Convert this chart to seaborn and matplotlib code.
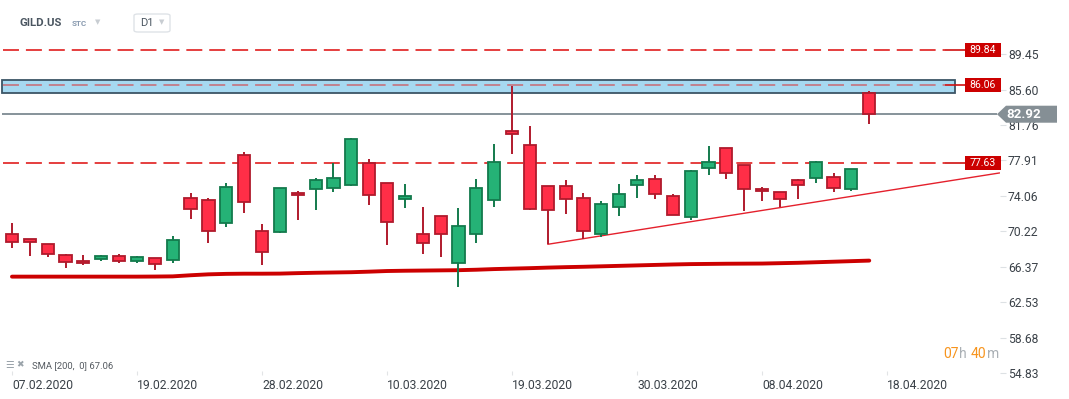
import matplotlib
matplotlib.use("Agg")
import matplotlib.pyplot as plt
import matplotlib.patches as mpatches
from matplotlib.transforms import IdentityTransform
import numpy as np
import pandas as pd
import seaborn as sns

# daily candles GILD.US
opens = [69.89, 69.35, 68.81, 67.62, 66.97, 67.25, 67.51, 67.03, 67.29, 67.07,
         73.80, 73.58, 71.09, 78.50, 70.22, 70.18, 74.34, 74.78, 74.88, 75.21,
         77.60, 75.43, 73.69, 69.89, 71.85, 66.75, 69.89, 73.58, 81.07, 79.55,
         75.10, 75.10, 73.80, 69.89, 72.82, 75.21, 75.86, 74.02, 71.74, 77.05,
         79.22, 77.38, 74.78, 74.45, 75.75, 75.97, 76.08, 74.78, 85.19]
highs = [71.15, 69.40, 68.85, 67.76, 67.65, 67.65, 67.76, 67.54, 67.32, 69.71,
         74.37, 73.83, 75.46, 78.82, 71.01, 74.90, 74.59, 76.00, 77.60, 80.34,
         78.06, 75.45, 75.35, 72.86, 71.88, 72.75, 75.86, 79.69, 85.98, 81.64,
         75.12, 75.78, 74.37, 73.47, 75.35, 76.33, 76.33, 74.23, 76.87, 79.47,
         79.25, 77.40, 74.99, 74.47, 75.89, 77.80, 76.51, 76.97, 85.44]
lows = [68.44, 67.57, 67.47, 66.27, 66.53, 67.03, 66.75, 66.82, 66.05, 66.82,
        71.59, 68.98, 70.72, 72.24, 66.60, 70.07, 71.48, 72.56, 74.52, 75.15,
        73.11, 68.77, 72.78, 67.79, 67.47, 64.15, 68.98, 72.89, 78.64, 72.58,
        68.81, 72.13, 69.35, 69.63, 71.91, 73.87, 73.76, 71.94, 71.45, 76.36,
        75.93, 72.45, 73.54, 72.89, 73.76, 75.43, 74.52, 74.56, 81.83]
closes = [69.03, 69.03, 67.73, 66.86, 66.75, 67.51, 66.97, 67.40, 66.71, 69.24,
          72.61, 70.22, 75.00, 73.43, 67.94, 74.88, 74.12, 75.75, 75.97, 80.20,
          74.12, 71.20, 74.02, 68.92, 69.89, 70.76, 74.88, 77.70, 80.74, 72.61,
          72.50, 73.69, 70.22, 73.15, 74.23, 75.75, 74.23, 71.96, 76.73, 77.70,
          76.51, 74.78, 74.56, 73.69, 75.21, 77.70, 74.88, 76.95, 82.92]
sma200 = [65.30, 65.30, 65.30, 65.30, 65.30, 65.30, 65.30, 65.30, 65.31, 65.33,
          65.45, 65.55, 65.60, 65.62, 65.62, 65.63, 65.68, 65.72, 65.75, 65.78,
          65.84, 65.91, 65.94, 65.96, 65.98, 66.00, 66.05, 66.12, 66.17, 66.22,
          66.28, 66.33, 66.37, 66.42, 66.47, 66.52, 66.57, 66.62, 66.66, 66.68,
          66.70, 66.71, 66.72, 66.76, 66.80, 66.86, 66.92, 66.98, 67.04]

date_ticks = [0, 7, 14, 21, 28, 35, 42, 49]
date_labels = ["07.02.2020", "19.02.2020", "28.02.2020", "10.03.2020",
               "19.03.2020", "30.03.2020", "08.04.2020", "18.04.2020"]
price_ticks = [54.83, 58.68, 62.53, 66.37, 70.22, 74.06, 77.91, 81.76, 85.60, 89.45]

levels = [89.84, 86.06, 77.63]
zone_low, zone_high = 85.22, 86.60
last_price = 82.92
trend_x = [30, 55.3]
trend_y = [68.81, 76.55]

sns.set_theme(style="white")
plt.rcParams["font.family"] = ["Roboto", "DejaVu Sans"]
plt.rcParams["lines.scale_dashes"] = False

W, H = 1069, 399
fig = plt.figure(figsize=(W / 100, H / 100), dpi=100)
fig.patch.set_facecolor("white")
ax = fig.add_axes([0, 24 / H, 1000 / W, 335 / H])
ax.set_facecolor("white")
ax.set_xlim(-0.67, 55.32)
ax.set_ylim(54.63, 90.97)


def px2x(px):
    # pixel column -> candle index
    return (px - 12) / 17.86


df = pd.DataFrame({"open": opens, "high": highs, "low": lows, "close": closes, "sma": sma200})
df["idx"] = np.arange(len(df))
up = df["close"] >= df["open"]
fill = np.where(up, "#25b276", "#ff2e47")
edge = np.where(up, "#137a4c", "#b01a2c")

# zone and levels
ax.add_patch(mpatches.Rectangle((px2x(2), zone_low), px2x(955) - px2x(2), zone_high - zone_low,
                                facecolor="#a6d9f1", edgecolor="#3c5566", lw=1.3, zorder=1))
for lvl in levels:
    a = 0.55 if lvl == 86.06 else 1.0
    ax.hlines(lvl, px2x(3), px2x(945), colors="#e01e1e", lw=1.2, alpha=a,
              linestyles=[(0, (11.5, 5))], zorder=2)
    ax.hlines(lvl, px2x(945), px2x(965), colors="#d01010", lw=1.2, zorder=2)
ax.hlines(last_price, px2x(2), px2x(997), colors="#7d8a92", lw=1.3, zorder=2)

# SMA and trend line
sns.lineplot(x=df["idx"], y=df["sma"], ax=ax, color="#cc0000", lw=2.8, zorder=2)
sns.lineplot(x=trend_x, y=trend_y, ax=ax, color="#e4202c", lw=1.0, zorder=2)

# candles
ax.vlines(df["idx"], df["low"], df["high"], colors=edge, lw=1.4, zorder=3)
body = np.maximum((df["close"] - df["open"]).abs(), 0.12)
ax.bar(df["idx"], body, bottom=np.minimum(df["open"], df["close"]), width=0.68,
       color=fill, edgecolor=edge, linewidth=1.3, zorder=4)

# axes styling
for s in ax.spines.values():
    s.set_visible(False)
ax.set_xlabel("")
ax.set_ylabel("")
ax.yaxis.tick_right()
ax.set_yticks(price_ticks)
ax.set_yticklabels([f"{v:.2f}" for v in price_ticks])
ax.tick_params(axis="y", length=4.3, width=0.8, color="#dde1e4", pad=1.5,
               labelsize=8.7, labelcolor="#3a4148", right=True, left=False)
ax.set_xticks(date_ticks)
ax.set_xticklabels(date_labels)
for lbl in ax.get_xticklabels():
    lbl.set_horizontalalignment("left")
ax.tick_params(axis="x", length=3, width=0.8, color="#e2e4e6", direction="in", pad=3,
               labelsize=8.7, labelcolor="#3a4148", bottom=True)
ax.grid(False)


def ypix(price):
    return ax.transData.transform((0, price))[1]


# level labels on the right
for lvl in levels:
    y = ypix(lvl)
    fig.add_artist(mpatches.Rectangle((965, y - 7), 36, 14, transform=IdentityTransform(),
                                      facecolor="#cc0000", edgecolor="none", zorder=5))
    fig.text(983 / W, y / H, f"{lvl:.2f}", color="white", fontsize=7.6,
             ha="center", va="center", zorder=6)

# last price arrow tag
y = ypix(last_price)
fig.add_artist(mpatches.Polygon([(997, y), (1006, y + 8.5), (1057, y + 8.5), (1057, y - 8.5), (1006, y - 8.5)],
                                closed=True, transform=IdentityTransform(),
                                facecolor="#858f95", edgecolor="none", zorder=5))
fig.text(1024 / W, y / H, f"{last_price:.2f}", color="white", fontsize=9.6,
         fontweight="bold", ha="center", va="center", zorder=6)


def ftext(px, py, s, **kw):
    return fig.text(px / W, 1 - py / H, s, **kw)


# header
ftext(20, 23, "GILD.US", fontsize=8.2, fontweight="bold", color="#4b5661", va="center")
ftext(72, 24, "STC", fontsize=5.8, fontweight="bold", color="#8a9bb0", va="center")
ftext(97.5, 22.5, "▼", fontsize=5, color="#c8cdd2", va="center", ha="center")
fig.add_artist(mpatches.FancyBboxPatch((134 / W, 1 - 32 / H), 36 / W, 18 / H,
                                       boxstyle="round,pad=0,rounding_size=0.004",
                                       transform=fig.transFigure, facecolor="white",
                                       edgecolor="#dfe3e7", lw=1))
ftext(140, 23.5, "D1", fontsize=8, color="#4b5661", va="center")
ftext(161.5, 23, "▼", fontsize=5, color="#c8cdd2", va="center", ha="center")

# indicator legend
ftext(5, 365, "☰", fontsize=7, color="#9aa3aa", va="center")
ftext(16, 365, "✖", fontsize=6.5, color="#9aa3aa", va="center")
ftext(32, 366, "SMA [200,  0] 67.06", fontsize=6.8, color="#555b61", va="center")

# session timer
ftext(943, 354, "07", fontsize=10, color="#f7941d", va="center")
ftext(959, 354, "h", fontsize=10, color="#aab0b5", va="center")
ftext(971, 354, "40", fontsize=10, color="#f7941d", va="center")
ftext(987, 354, "m", fontsize=10, color="#aab0b5", va="center")

fig.savefig("out.png", dpi=100, facecolor="white")
